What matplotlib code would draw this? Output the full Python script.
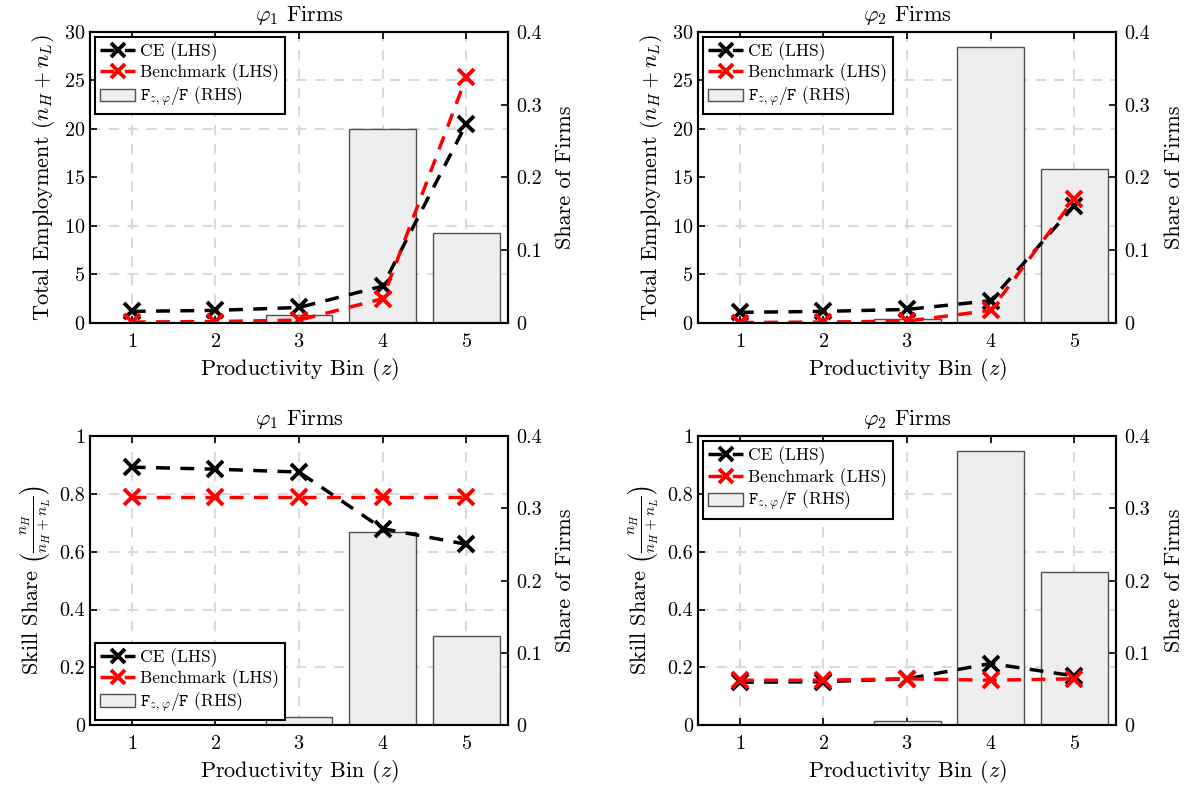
import numpy as np
import matplotlib
matplotlib.use("Agg")
from matplotlib import pyplot as plt
from matplotlib.patches import Patch
from matplotlib.lines import Line2D

plt.rcParams['font.family'] = 'serif'
plt.rcParams['font.serif'] = ['cmr10', 'DejaVu Serif']
plt.rcParams['mathtext.fontset'] = 'cm'
plt.rcParams['axes.unicode_minus'] = False
plt.rcParams['axes.formatter.use_mathtext'] = True

# data
bins = [1, 2, 3, 4, 5]

emp_ce_phi1 = [1.2, 1.3, 1.6, 3.8, 20.5]
emp_bm_phi1 = [0.1, 0.15, 0.3, 2.5, 25.3]
emp_ce_phi2 = [1.1, 1.2, 1.4, 2.3, 12.1]
emp_bm_phi2 = [0.05, 0.1, 0.2, 1.3, 12.8]

skill_ce_phi1 = [0.893, 0.886, 0.876, 0.68, 0.626]
skill_bm_phi1 = [0.79, 0.79, 0.79, 0.79, 0.79]
skill_ce_phi2 = [0.148, 0.150, 0.160, 0.213, 0.170]
skill_bm_phi2 = [0.155, 0.155, 0.160, 0.155, 0.160]

share_phi1 = [0.0, 0.0, 0.011, 0.267, 0.123]
share_phi2 = [0.0, 0.0, 0.005, 0.379, 0.212]

panels = [
    # title, ce, bm, share, ylim, yticks, ylabel, legend loc, axes rect
    (r'$\varphi_1$ Firms', emp_ce_phi1, emp_bm_phi1, share_phi1, 30, np.arange(0, 31, 5),
     r'Total Employment $(n_H + n_L)$', 'upper left', [0.0756, 0.5906, 0.3513, 0.369]),
    (r'$\varphi_2$ Firms', emp_ce_phi2, emp_bm_phi2, share_phi2, 30, np.arange(0, 31, 5),
     r'Total Employment $(n_H + n_L)$', 'upper left', [0.5866, 0.5906, 0.3513, 0.369]),
    (r'$\varphi_1$ Firms', skill_ce_phi1, skill_bm_phi1, share_phi1, 1, np.arange(0, 1.01, 0.2),
     r'Skill Share $\left(\frac{n_H}{n_H+n_L}\right)$', 'lower left', [0.0756, 0.0811, 0.3513, 0.366]),
    (r'$\varphi_2$ Firms', skill_ce_phi2, skill_bm_phi2, share_phi2, 1, np.arange(0, 1.01, 0.2),
     r'Skill Share $\left(\frac{n_H}{n_H+n_L}\right)$', 'upper left', [0.5866, 0.0811, 0.3513, 0.366]),
]

fig = plt.figure(figsize=(11.9, 7.89), dpi=100)
grid_col = '#dadada'

for title, ce, bm, share, ymax, yticks, ylabel, loc, rect in panels:
    ax2 = fig.add_axes(rect)  # bars, right axis
    ax = ax2.twinx()          # lines, left axis
    ax.yaxis.tick_left()
    ax.yaxis.set_label_position('left')
    ax2.yaxis.tick_right()
    ax2.yaxis.set_label_position('right')

    ax2.bar(bins, share, width=0.8, color='#eeeeee', edgecolor='#505050', linewidth=1.0)
    ax2.set_ylim(0, 0.4)
    ax2.set_yticks([0, 0.1, 0.2, 0.3, 0.4])
    ax2.set_yticklabels(['0', '0.1', '0.2', '0.3', '0.4'])
    ax2.set_yticks(yticks / ymax * 0.4, minor=True)
    ax2.set_axisbelow(True)
    ax2.yaxis.grid(True, which='minor', color=grid_col, linestyle=(0, (5, 4)), linewidth=1.5)
    ax2.xaxis.grid(True, color=grid_col, linestyle=(0, (5, 4)), linewidth=1.5)
    ax2.tick_params(axis='y', which='minor', length=0)
    ax2.set_ylabel('Share of Firms', fontsize=16, labelpad=10)

    ax.plot(bins, ce, color='black', linestyle=(0, (4, 3)), linewidth=2.5,
            marker='x', markersize=12, markeredgewidth=2.8)
    ax.plot(bins, bm, color='red', linestyle=(0, (4, 3)), linewidth=2.5,
            marker='x', markersize=12, markeredgewidth=2.8)
    ax.set_ylim(0, ymax)
    ax.set_yticks(yticks)
    if ymax == 1:
        ax.set_yticklabels(['0', '0.2', '0.4', '0.6', '0.8', '1'])
    ax.set_ylabel(ylabel, fontsize=16, labelpad=5)
    ax.set_zorder(ax2.get_zorder() + 1)
    ax.patch.set_visible(False)

    ax2.set_xlim(0.5, 5.5)
    ax2.set_xticks(bins)
    ax2.set_xlabel(r'Productivity Bin ($z$)', fontsize=16, labelpad=4)
    ax2.set_title(title, fontsize=16, pad=8)

    for a in (ax, ax2):
        a.tick_params(which='major', direction='in', length=5, width=1.2, labelsize=14.5)
        for s in a.spines.values():
            s.set_linewidth(1.5)
    ax2.tick_params(axis='x', top=True, pad=7)
    ax2.tick_params(axis='y', pad=6)

    handles = [
        Line2D([], [], color='black', linestyle=(0, (4, 3)), linewidth=2.5,
               marker='x', markersize=10, markeredgewidth=2.8),
        Line2D([], [], color='red', linestyle=(0, (4, 3)), linewidth=2.5,
               marker='x', markersize=10, markeredgewidth=2.8),
        Patch(facecolor='#eeeeee', edgecolor='#505050'),
    ]
    labels = ['CE (LHS)', 'Benchmark (LHS)', r'$\mathtt{F}_{z,\varphi}/\mathtt{F}$ (RHS)']
    leg = ax.legend(handles, labels, loc=loc, fontsize=12.5, fancybox=False, framealpha=1,
                    edgecolor='black', handlelength=2.0, handletextpad=0.3,
                    borderpad=0.3, labelspacing=0.15, borderaxespad=0.3)
    leg.get_frame().set_linewidth(1.5)

fig.savefig('out.png', dpi=100)
